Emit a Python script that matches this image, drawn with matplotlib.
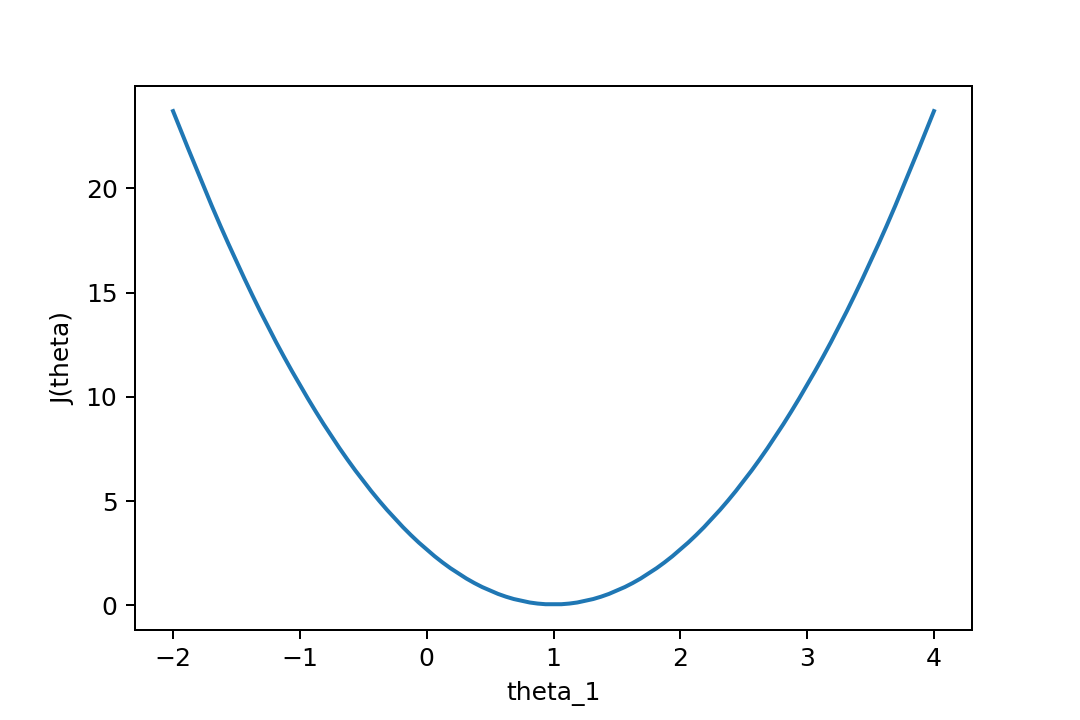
import numpy as np
import matplotlib
matplotlib.use("Agg")
from matplotlib import pyplot as plt
from matplotlib.path import Path
from matplotlib.patches import PathPatch

# values
theta_1 = [-2.0, -1.75, -1.5, -1.25, -1.0, -0.75, -0.5, -0.25, 0.0,
           0.25, 0.5, 0.75, 1.0, 1.25, 1.5, 1.75, 2.0,
           2.25, 2.5, 2.75, 3.0, 3.25, 3.5, 3.75, 4.0]
J = [23.7, 19.9, 16.45, 13.3, 10.53, 8.06, 5.92, 4.11, 2.63,
     1.48, 0.66, 0.165, 0.0, 0.165, 0.66, 1.48, 2.63,
     4.11, 5.92, 8.06, 10.53, 13.3, 16.45, 19.9, 23.7]

fig = plt.figure(figsize=(6, 4), dpi=180)
fig.subplots_adjust(left=0.125, right=0.9, top=0.88, bottom=0.125)
ax = fig.add_subplot(111)

x = np.array(theta_1)
y = np.array(J)
# curved segments via midpoints so the line does not look angular
verts = [(x[0], y[0])]
codes = [Path.MOVETO]
for i in range(1, len(x) - 1):
    mx = (x[i] + x[i + 1]) / 2
    my = (y[i] + y[i + 1]) / 2
    verts += [(x[i], y[i]), (mx, my)]
    codes += [Path.CURVE3, Path.CURVE3]
verts[-1] = (x[-1], y[-1])
ax.plot(x, y, alpha=0)  # sets data limits through the axes
ax.add_patch(PathPatch(Path(verts, codes), fill=False, edgecolor="#1f77b4",
                       linewidth=1.6, capstyle="projecting"))

ax.set_xlabel("theta_1")
ax.set_ylabel("J(theta)")

plt.savefig("out.png", dpi=180)
